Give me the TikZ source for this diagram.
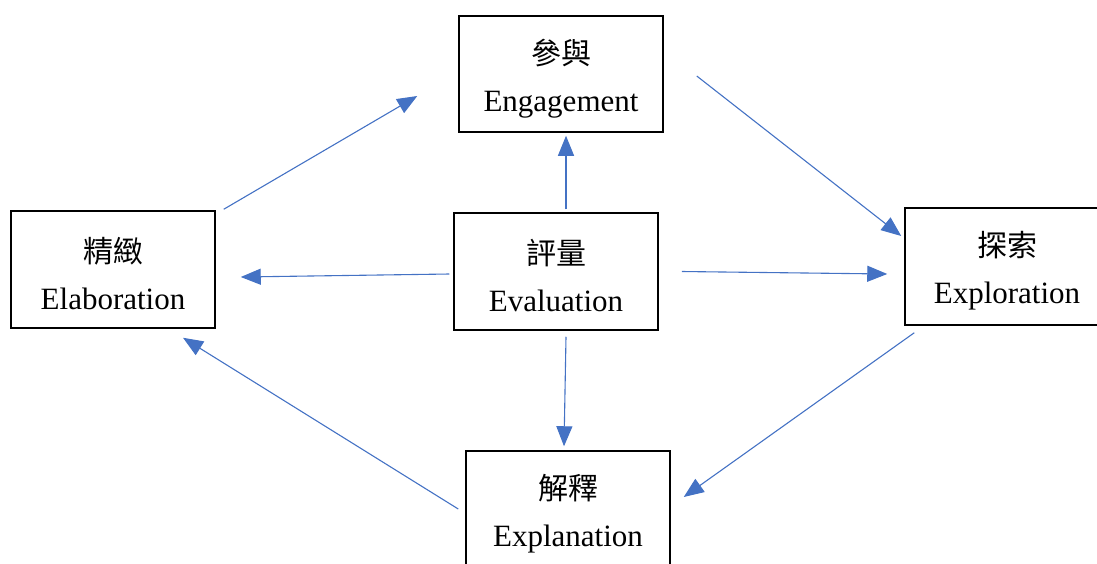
\documentclass[tikz,border=0pt]{standalone}
\usepackage{fontspec}
\setmainfont{Liberation Serif}
\newfontfamily\cjk{Noto Sans CJK TC}
\usetikzlibrary{calc,arrows.meta}
\definecolor{arrowblue}{HTML}{4472C4}
\tikzset{
  stagebox/.style={draw=black, line width=1.5pt, fill=white, minimum width=204pt, minimum height=116pt, inner sep=0pt, align=center, font=\fontsize{31}{35}\selectfont},
  flow/.style={draw=arrowblue, line width=1.1pt, -{Triangle[length=20pt,width=16pt]}},
}
\newcommand{\stagetext}[2]{{\cjk\fontsize{30}{34}\selectfont\rule{0pt}{34pt}#1}\\[12pt]#2}
\begin{document}
\begin{tikzpicture}[x=1pt,y=-1pt]
\useasboundingbox (0,0) rectangle (1097,563);
\clip (0,0) rectangle (1097,563);
\node[stagebox] (eng) at (561,74) {\stagetext{參與}{Engagement}};
\node[stagebox, minimum height=117pt] (ela) at (113,269.5) {\stagetext{精緻}{Elaboration}};
\node[stagebox, minimum height=117pt] (eva) at (556,271.5) {\stagetext{評量}{Evaluation}};
\node[stagebox, minimum height=117pt] (exp) at (1007,266.5) {\stagetext{探索}{Exploration}};
\node[stagebox] (expl) at (568,509) {\stagetext{解釋}{Explanation}};

\coordinate (a1s) at ($(ela.north east)+(8,-1)$);
\coordinate (a1e) at ($(eng.west)+(-41,22)$);
\coordinate (a2s) at ($(eng.east)+(33,2)$);
\coordinate (a2e) at ($(exp.west)+(-3,-30.5)$);
\coordinate (a3s) at ($(exp.south west)+(10,7)$);
\coordinate (a3e) at ($(expl.east)+(13,-12)$);
\coordinate (a4s) at ($(expl.west)+(-7,0)$);
\coordinate (a4e) at ($(ela.south)+(70,9)$);
\coordinate (a5s) at ($(eva.north)+(10,-3)$);
\coordinate (a5e) at ($(eng.south)+(5,3)$);
\coordinate (a6s) at ($(eva.west)+(-4,2.5)$);
\coordinate (a6e) at ($(ela.east)+(25,7.5)$);
\coordinate (a7s) at ($(eva.east)+(23,0)$);
\coordinate (a7e) at ($(exp.west)+(-17,7.5)$);
\coordinate (a8s) at ($(eva.south)+(10,6)$);
\coordinate (a8e) at ($(expl.north)+(-4,-4)$);

\draw[flow] (a1s) -- (a1e);
\draw[flow] (a2s) -- (a2e);
\draw[flow] (a3s) -- (a3e);
\draw[flow] (a4s) -- (a4e);
\draw[flow] (a5s) -- (a5e);
\draw[flow] (a6s) -- (a6e);
\draw[flow] (a7s) -- (a7e);
\draw[flow] (a8s) -- (a8e);
\end{tikzpicture}
\end{document}
